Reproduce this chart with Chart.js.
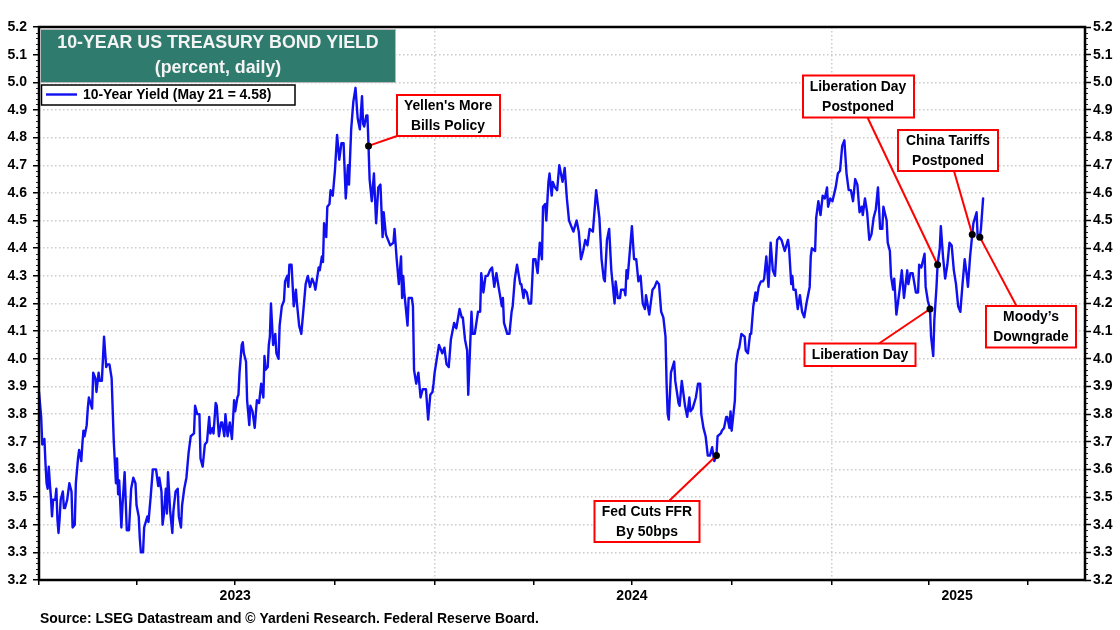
<!DOCTYPE html>
<html>
<head>
<meta charset="utf-8">
<title>10-Year US Treasury Bond Yield</title>
<style>
    html, body { margin: 0; padding: 0; background: #fff; }
    #yieldChart { display: block; }
</style>
<script src="https://cdn.jsdelivr.net/npm/chart.js@4/dist/chart.umd.min.js"></script>
</head>
<body>
<canvas id="yieldChart" width="1120" height="630"></canvas>
<script>
var yieldDays = [
    0, 2, 3, 5, 6, 7, 8, 9, 10, 11, 12, 13, 15, 16, 17, 18, 19, 20, 22, 23, 24, 26, 28, 30, 31, 33, 34, 36, 37, 39,
    40, 41, 42, 44, 45, 46, 49, 50, 52, 53, 55, 56, 58, 60, 62, 63, 65, 67, 69, 71, 72, 73, 74, 76, 77, 79, 81, 83, 85, 87,
    89, 90, 92, 93, 94, 96, 97, 100, 101, 103, 105, 108, 110, 111, 113, 114, 115, 117, 118, 119, 121, 123, 124, 126, 128, 129, 131, 132, 134, 136,
    138, 140, 143, 144, 146, 148, 149, 151, 153, 155, 157, 158, 160, 161, 163, 164, 166, 168, 169, 171, 172, 174, 176, 178, 180, 181, 183, 184, 185, 187,
    188, 189, 191, 192, 194, 195, 197, 199, 201, 203, 205, 207, 208, 209, 211, 212, 213, 214, 216, 218, 219, 221, 222, 224, 226, 227, 229, 230, 231, 233,
    235, 237, 238, 240, 242, 244, 246, 248, 250, 252, 254, 255, 258, 259, 261, 262, 263, 265, 266, 268, 269, 271, 273, 275, 277, 279, 281, 283, 285, 286,
    288, 290, 292, 294, 296, 298, 299, 300, 302, 303, 304, 305, 307, 309, 311, 313, 315, 317, 318, 320, 321, 324, 327, 328, 330, 332, 334, 335, 336, 337,
    340, 341, 344, 345, 346, 348, 350, 352, 354, 357, 359, 361, 363, 364, 365, 369, 372, 374, 376, 378, 380, 383, 385, 388, 390, 391, 393, 395, 396, 398,
    399, 400, 402, 405, 407, 408, 410, 412, 414, 416, 418, 420, 422, 424, 427, 428, 429, 432, 434, 436, 437, 439, 441, 444, 445, 447, 448, 450, 452, 454,
    456, 458, 460, 462, 464, 465, 467, 468, 470, 471, 473, 474, 476, 478, 480, 483, 485, 487, 489, 491, 493, 496, 498, 500, 502, 504, 506, 508, 511, 514,
    517, 519, 521, 522, 524, 526, 528, 531, 532, 534, 536, 537, 540, 541, 542, 543, 547, 549, 551, 553, 555, 557, 559, 560, 563, 566, 568, 570, 572, 574,
    576, 578, 579, 580, 581, 583, 586, 587, 590, 591, 593, 594, 596, 598, 600, 601, 603, 606, 608, 610, 611, 613, 615, 617, 619, 621, 623, 625, 626, 629,
    630, 632, 634, 635, 637, 638, 639, 642, 643, 645, 646, 648, 651, 652, 654, 656, 657, 659, 661, 662, 664, 666, 668, 669, 671, 673, 675, 677, 679, 681,
    683, 685, 688, 691, 692, 694, 695, 696, 698, 700, 702, 704, 706, 708, 709, 711, 712, 713, 716, 717, 719, 721, 723, 725, 727, 728, 730, 732, 735, 737,
    739, 741, 743, 745, 747, 749, 751, 753, 755, 757, 759, 760, 762, 764, 766, 768, 770, 772, 774, 776, 778, 779, 782, 783, 785, 786, 788, 789, 791, 794,
    796, 798, 801, 802, 804, 806, 809, 811, 812, 814, 817, 818, 820, 822, 823, 825, 826, 828, 829, 831, 832, 834, 836, 838, 840, 842, 844, 846, 848, 850,
    852, 854, 856, 857, 859, 861, 862, 865, 866, 868, 869, 871
];
var yieldValues = [
    3.88, 3.79, 3.69, 3.71, 3.62, 3.55, 3.53, 3.61, 3.55, 3.50, 3.43, 3.49, 3.49, 3.53, 3.42, 3.37, 3.42, 3.49, 3.52, 3.46, 3.46, 3.49, 3.55, 3.52, 3.39, 3.40, 3.55, 3.64, 3.67, 3.63,
    3.69, 3.74, 3.72, 3.76, 3.82, 3.86, 3.82, 3.95, 3.93, 3.88, 3.95, 3.92, 3.92, 4.08, 3.97, 3.98, 3.98, 3.93, 3.70, 3.55, 3.64, 3.51, 3.56, 3.39, 3.47, 3.59, 3.38, 3.38, 3.53, 3.57,
    3.55, 3.47, 3.43, 3.35, 3.30, 3.30, 3.39, 3.43, 3.41, 3.50, 3.60, 3.60, 3.54, 3.57, 3.52, 3.40, 3.43, 3.53, 3.44, 3.59, 3.45, 3.37, 3.45, 3.52, 3.53, 3.43, 3.39, 3.47, 3.53, 3.57,
    3.66, 3.72, 3.73, 3.83, 3.80, 3.80, 3.64, 3.61, 3.69, 3.70, 3.79, 3.73, 3.75, 3.73, 3.84, 3.83, 3.72, 3.77, 3.77, 3.72, 3.80, 3.72, 3.77, 3.71, 3.85, 3.81, 3.86, 3.87, 3.95, 4.05,
    4.06, 4.02, 3.99, 3.85, 3.76, 3.83, 3.81, 3.75, 3.85, 3.84, 3.91, 3.86, 4.01, 3.96, 3.97, 4.05, 4.08, 4.20, 4.05, 4.09, 4.02, 4.00, 4.12, 4.19, 4.21, 4.28, 4.30, 4.26, 4.34, 4.34,
    4.19, 4.25, 4.20, 4.12, 4.09, 4.18, 4.27, 4.30, 4.26, 4.29, 4.27, 4.25, 4.33, 4.32, 4.37, 4.35, 4.49, 4.44, 4.55, 4.56, 4.61, 4.59, 4.68, 4.81, 4.72, 4.78, 4.78, 4.58, 4.70, 4.63,
    4.83, 4.93, 4.98, 4.87, 4.83, 4.95, 4.85, 4.84, 4.88, 4.88, 4.77, 4.65, 4.57, 4.67, 4.49, 4.62, 4.63, 4.44, 4.53, 4.45, 4.44, 4.41, 4.42, 4.47, 4.36, 4.27, 4.37, 4.22, 4.30, 4.24,
    4.12, 4.22, 4.22, 4.19, 3.96, 3.91, 3.95, 3.86, 3.89, 3.89, 3.78, 3.87, 3.88, 3.91, 3.95, 4.05, 4.02, 4.04, 3.98, 3.97, 4.07, 4.13, 4.11, 4.18, 4.15, 4.15, 4.07, 4.03, 3.87, 4.07,
    4.17, 4.09, 4.09, 4.17, 4.17, 4.31, 4.24, 4.30, 4.30, 4.32, 4.33, 4.26, 4.31, 4.26, 4.19, 4.22, 4.13, 4.09, 4.09, 4.17, 4.19, 4.29, 4.34, 4.27, 4.27, 4.22, 4.25, 4.24, 4.20, 4.20,
    4.36, 4.36, 4.31, 4.42, 4.36, 4.55, 4.56, 4.50, 4.64, 4.67, 4.59, 4.64, 4.62, 4.61, 4.70, 4.64, 4.69, 4.58, 4.50, 4.48, 4.46, 4.50, 4.46, 4.36, 4.39, 4.43, 4.41, 4.47, 4.46, 4.61,
    4.51, 4.36, 4.29, 4.28, 4.43, 4.47, 4.32, 4.20, 4.28, 4.22, 4.22, 4.25, 4.25, 4.23, 4.32, 4.29, 4.48, 4.36, 4.36, 4.28, 4.30, 4.20, 4.18, 4.23, 4.16, 4.25, 4.26, 4.28, 4.27, 4.17,
    4.15, 4.08, 3.91, 3.80, 3.78, 3.95, 3.99, 3.92, 3.84, 3.83, 3.92, 3.89, 3.83, 3.79, 3.86, 3.81, 3.82, 3.86, 3.91, 3.91, 3.80, 3.75, 3.72, 3.65, 3.65, 3.68, 3.63, 3.65, 3.72, 3.73,
    3.74, 3.75, 3.79, 3.79, 3.75, 3.81, 3.74, 3.85, 3.98, 4.03, 4.04, 4.09, 4.08, 4.03, 4.02, 4.09, 4.09, 4.19, 4.24, 4.21, 4.26, 4.28, 4.28, 4.29, 4.37, 4.26, 4.42, 4.32, 4.30, 4.43,
    4.44, 4.43, 4.39, 4.43, 4.40, 4.27, 4.30, 4.25, 4.25, 4.18, 4.23, 4.17, 4.15, 4.20, 4.22, 4.26, 4.37, 4.40, 4.39, 4.51, 4.57, 4.52, 4.59, 4.58, 4.62, 4.55, 4.58, 4.57, 4.62, 4.67,
    4.68, 4.77, 4.79, 4.67, 4.61, 4.61, 4.57, 4.65, 4.63, 4.53, 4.55, 4.52, 4.58, 4.53, 4.43, 4.45, 4.51, 4.54, 4.62, 4.47, 4.47, 4.55, 4.50, 4.42, 4.39, 4.30, 4.25, 4.29, 4.16, 4.25,
    4.32, 4.22, 4.32, 4.27, 4.31, 4.31, 4.24, 4.24, 4.34, 4.33, 4.38, 4.26, 4.21, 4.18, 4.08, 4.01, 4.14, 4.26, 4.34, 4.40, 4.48, 4.37, 4.29, 4.34, 4.42, 4.41, 4.32, 4.27, 4.19, 4.17,
    4.27, 4.36, 4.30, 4.26, 4.37, 4.45, 4.49, 4.53, 4.44, 4.44, 4.47, 4.58
];

var eventLabels = [
    ["Yellen's More", "Bills Policy"],
    ["Fed Cuts FFR", "By 50bps"],
    ["Liberation Day"],
    ["Liberation Day", "Postponed"],
    ["China Tariffs", "Postponed"],
    ["Moody\u2019s", "Downgrade"]
];
var eventDays = [304, 625, 822, 829, 861, 868];
var eventValues = [4.77, 3.65, 4.18, 4.34, 4.45, 4.44];

var quarterDays = [0, 90, 181, 273, 365, 456, 547, 639, 731, 821, 912];
var yearGridDays = [0, 365, 731];
var yearLabels = ['2023', '2024', '2025'];
var yearLabelDays = [181, 547, 847];

var seriesLabel = '10-Year Yield (May 21 = 4.58)';
var titleLines = ['10-YEAR US TREASURY BOND YIELD', '(percent, daily)'];
var sourceText = 'Source: LSEG Datastream and \u00a9 Yardeni Research. Federal Reserve Board.';

var FONT_FAMILY = '"Liberation Sans", Arial, sans-serif';
var LINE_BLUE = '#0F0FF0';
var GRID_GREY = '#CCCCCC';

// where each callout box sits on the page, same order as eventLabels
var calloutBoxes = [
    { x: 397, y: 95, w: 103, h: 41, cx: 448, ax: 397, ay: 136 },
    { x: 594.5, y: 501, w: 105, h: 41, cx: 647, ax: 669, ay: 501 },
    { x: 804.5, y: 343.5, w: 111, h: 22.5, cx: 860, ax: 879, ay: 343.5 },
    { x: 803, y: 75.5, w: 111, h: 42, cx: 858, ax: 867.5, ay: 117.5 },
    { x: 898, y: 130, w: 100, h: 41, cx: 948, ax: 954, ay: 171 },
    { x: 986, y: 306, w: 90, h: 41.5, cx: 1031, ax: 1016.5, ay: 306 }
];

function fixWidth(width) {
    return function (scale) { scale.width = width; };
}

function yTickLabel(value) {
    return value.toFixed(1);
}

function drawMinorTicks(chart) {
    var ctx = chart.ctx;
    var y = chart.scales.y;
    var area = chart.chartArea;
    ctx.save();
    ctx.strokeStyle = '#222';
    ctx.lineWidth = 1;
    for (var i = 0; i <= 100; i++) {
        if (i % 5 === 0) continue;
        var py = Math.round(y.getPixelForValue(3.2 + i * 0.02)) + 0.5;
        ctx.beginPath();
        ctx.moveTo(area.left - 3, py);
        ctx.lineTo(area.left, py);
        ctx.moveTo(area.right, py);
        ctx.lineTo(area.right + 3, py);
        ctx.stroke();
    }
    ctx.restore();
}

function drawTitleBox(ctx) {
    ctx.fillStyle = '#2F7B6E';
    ctx.fillRect(41, 30, 354, 52);
    ctx.strokeStyle = '#B8B8B8';
    ctx.lineWidth = 1;
    ctx.strokeRect(40.5, 29.5, 355, 53);
    ctx.fillStyle = '#F4F4F4';
    ctx.textAlign = 'center';
    ctx.textBaseline = 'middle';
    ctx.font = 'bold 17.8px ' + FONT_FAMILY;
    ctx.fillText(titleLines[0], 218, 43.5);
    ctx.fillText(titleLines[1], 218, 68.5);
}

function drawLegendBox(ctx) {
    ctx.fillStyle = '#fff';
    ctx.strokeStyle = '#000';
    ctx.lineWidth = 1.5;
    ctx.fillRect(41.5, 85, 253.5, 20);
    ctx.strokeRect(41.5, 85, 253.5, 20);
    ctx.strokeStyle = LINE_BLUE;
    ctx.lineWidth = 2.4;
    ctx.beginPath();
    ctx.moveTo(46, 94.5);
    ctx.lineTo(77, 94.5);
    ctx.stroke();
    ctx.fillStyle = '#000';
    ctx.textAlign = 'left';
    ctx.textBaseline = 'middle';
    ctx.font = 'bold 13.9px ' + FONT_FAMILY;
    ctx.fillText(seriesLabel, 83, 95);
}

function drawCallouts(chart) {
    var ctx = chart.ctx;
    var sx = chart.scales.x;
    var sy = chart.scales.y;
    ctx.lineWidth = 2;
    ctx.strokeStyle = '#FF0000';
    calloutBoxes.forEach(function (box, i) {
        ctx.beginPath();
        ctx.moveTo(sx.getPixelForValue(eventDays[i]), sy.getPixelForValue(eventValues[i]));
        ctx.lineTo(box.ax, box.ay);
        ctx.stroke();
    });
    calloutBoxes.forEach(function (box, i) {
        ctx.fillStyle = '#fff';
        ctx.fillRect(box.x, box.y, box.w, box.h);
        ctx.strokeStyle = '#FF0000';
        ctx.strokeRect(box.x, box.y, box.w, box.h);
        ctx.fillStyle = '#000';
        ctx.textAlign = 'center';
        ctx.textBaseline = 'middle';
        ctx.font = 'bold 13.9px ' + FONT_FAMILY;
        var lines = eventLabels[i];
        lines.forEach(function (line, n) {
            var mid = box.y + box.h / 2 + (n - (lines.length - 1) / 2) * 19.5;
            ctx.fillText(line, box.cx, mid + 0.5);
        });
    });
    ctx.fillStyle = '#000';
    eventDays.forEach(function (day, i) {
        ctx.beginPath();
        ctx.arc(sx.getPixelForValue(day), sy.getPixelForValue(eventValues[i]), 3.5, 0, Math.PI * 2);
        ctx.fill();
    });
}

var pagePlugin = {
    id: 'pageExtras',
    afterDraw: function (chart) {
        var ctx = chart.ctx;
        var area = chart.chartArea;
        ctx.save();
        drawMinorTicks(chart);
        // frame around the plot
        ctx.strokeStyle = '#000';
        ctx.lineWidth = 2.5;
        ctx.strokeRect(area.left, area.top, area.right - area.left, area.bottom - area.top);
        drawTitleBox(ctx);
        drawLegendBox(ctx);
        drawCallouts(chart);
        // source line under the chart
        ctx.fillStyle = '#000';
        ctx.textAlign = 'left';
        ctx.textBaseline = 'alphabetic';
        ctx.font = 'bold 13.9px ' + FONT_FAMILY;
        ctx.fillText(sourceText, 40, 623);
        ctx.restore();
    }
};

var points = yieldDays.map(function (day, i) {
    return { x: day, y: yieldValues[i] };
});

var allXTicks = quarterDays.concat(yearLabelDays[2]).sort(function (a, b) { return a - b; });

new Chart(document.getElementById('yieldChart').getContext('2d'), {
    type: 'line',
    data: {
        datasets: [{
            label: seriesLabel,
            data: points,
            borderColor: LINE_BLUE,
            borderWidth: 2.4,
            borderJoinStyle: 'round',
            borderCapStyle: 'round',
            pointRadius: 0,
            tension: 0
        }]
    },
    options: {
        responsive: false,
        animation: false,
        devicePixelRatio: 1,
        layout: { autoPadding: false, padding: { top: 27, right: 0, bottom: 0, left: 0 } },
        plugins: { legend: { display: false }, title: { display: false }, tooltip: { enabled: false } },
        scales: {
            x: {
                type: 'linear',
                min: 0,
                max: 965,
                afterFit: function (scale) { scale.height = 50; },
                afterBuildTicks: function (scale) {
                    scale.ticks = allXTicks.map(function (v) { return { value: v }; });
                },
                ticks: {
                    autoSkip: false,
                    maxRotation: 0,
                    padding: 3,
                    color: '#000',
                    font: { family: FONT_FAMILY, size: 14, weight: 'bold' },
                    callback: function (value) {
                        var i = yearLabelDays.indexOf(value);
                        return i >= 0 ? yearLabels[i] : '';
                    }
                },
                border: { display: false, dash: [1.5, 2.5] },
                grid: {
                    tickLength: 5,
                    tickWidth: 1.5,
                    lineWidth: 1.5,
                    color: function (c) {
                        return yearGridDays.indexOf(c.tick.value) >= 0 ? GRID_GREY : 'rgba(0,0,0,0)';
                    },
                    tickColor: function (c) {
                        return quarterDays.indexOf(c.tick.value) >= 0 ? '#000' : 'rgba(0,0,0,0)';
                    }
                }
            },
            y: {
                position: 'left',
                min: 3.2,
                max: 5.2,
                afterFit: fixWidth(39),
                ticks: {
                    stepSize: 0.1,
                    padding: 6,
                    color: '#000',
                    font: { family: FONT_FAMILY, size: 14, weight: 'bold' },
                    callback: yTickLabel
                },
                border: { display: false, dash: [1.5, 2.5] },
                grid: { color: GRID_GREY, lineWidth: 1.5, tickLength: 6, tickColor: '#000', tickWidth: 1.5 }
            },
            yRight: {
                position: 'right',
                min: 3.2,
                max: 5.2,
                afterFit: fixWidth(35),
                ticks: {
                    stepSize: 0.1,
                    padding: 2,
                    color: '#000',
                    font: { family: FONT_FAMILY, size: 14, weight: 'bold' },
                    callback: yTickLabel
                },
                border: { display: false },
                grid: { drawOnChartArea: false, tickLength: 6, tickColor: '#000', tickWidth: 1.5 }
            }
        }
    },
    plugins: [pagePlugin]
});
</script>
</body>
</html>
